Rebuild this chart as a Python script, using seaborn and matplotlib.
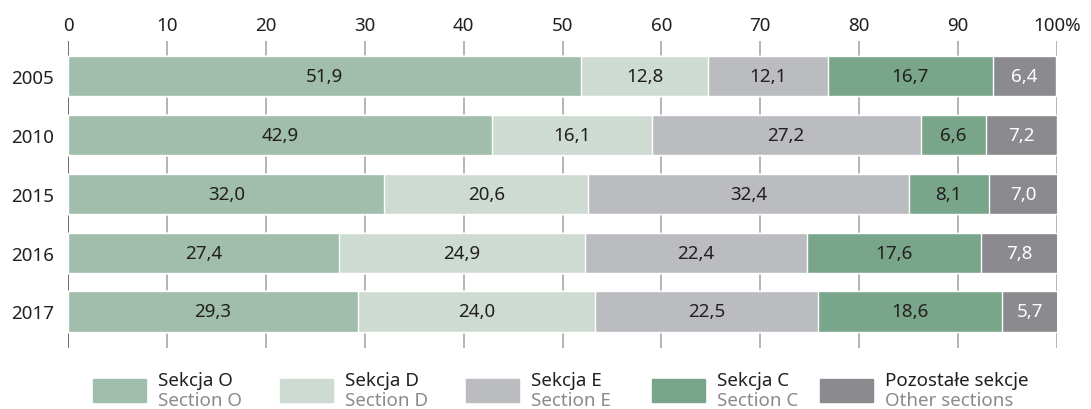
import numpy as np
import pandas as pd
import matplotlib
matplotlib.use("Agg")
import matplotlib.pyplot as plt
import seaborn as sns
from matplotlib.patches import Rectangle

# dane
years = ["2005", "2010", "2015", "2016", "2017"]
sekcja_o = [51.9, 42.9, 32.0, 27.4, 29.3]
sekcja_d = [12.8, 16.1, 20.6, 24.9, 24.0]
sekcja_e = [12.1, 27.2, 32.4, 22.4, 22.5]
sekcja_c = [16.7, 6.6, 8.1, 17.6, 18.6]
pozostale = [6.4, 7.2, 7.0, 7.8, 5.7]

names_pl = ["Sekcja O", "Sekcja D", "Sekcja E", "Sekcja C", "Pozostałe sekcje"]
names_en = ["Section O", "Section D", "Section E", "Section C", "Other sections"]
colors = ["#a1bdab", "#cddbd2", "#bbbcc0", "#79a58b", "#8b8b8f"]
text_colors = ["#231f20", "#231f20", "#231f20", "#231f20", "#ffffff"]
x_ticks = [0, 10, 20, 30, 40, 50, 60, 70, 80, 90, 100]
x_ticklabels = ["0", "10", "20", "30", "40", "50", "60", "70", "80", "90", "100%"]

sns.set_style("white")
plt.rcParams["font.family"] = ["Noto Sans", "DejaVu Sans"]
fs = 13.5

df = pd.DataFrame({"rok": years, "O": sekcja_o, "D": sekcja_d, "E": sekcja_e,
                   "C": sekcja_c, "P": pozostale})
cols = ["O", "D", "E", "C", "P"]
cum = df[cols].cumsum(axis=1)
start = cum - df[cols]

fig = plt.figure(figsize=(10.91, 4.10), dpi=100)
ax = fig.add_axes([68 / 1091, 1 - 349 / 410, (1057 - 68) / 1091, (349 - 42) / 410])

# siatka pod słupkami
for t in x_ticks:
    ax.axvline(t, color="#555555" if t == 0 else "#a8a8a8", lw=1.2, zorder=0)

# słupki skumulowane - od końca
for i in range(len(cols) - 1, -1, -1):
    sns.barplot(x=cum[cols[i]], y=df["rok"], order=years, orient="h", color=colors[i],
                saturation=1, width=0.68, ax=ax, zorder=2)

# etykiety wartości
for i, c in enumerate(cols):
    for j in range(len(years)):
        val = df[c].iloc[j]
        lab = f"{val:.1f}".replace(".", ",")
        bold = "semibold" if (c == "D" and years[j] == "2017") else "normal"
        ax.text((start[c].iloc[j] + cum[c].iloc[j]) / 2, j, lab, ha="center", va="center",
                fontsize=fs, color=text_colors[i], fontweight=bold, zorder=3)

ax.set_xlim(0, 100)
ax.set_ylim(4.62, -0.59)
ax.xaxis.tick_top()
ax.set_xticks(x_ticks)
ax.set_xticklabels(x_ticklabels, fontsize=fs, color="#231f20")
ax.tick_params(axis="x", length=0, pad=5)
ax.tick_params(axis="y", length=0, pad=10, labelsize=fs, labelcolor="#231f20")
ax.set_xlabel("")
ax.set_ylabel("")
for s in ax.spines.values():
    s.set_visible(False)

# legenda
leg_x = [93, 280, 466, 652, 820]
for k in range(5):
    x0 = leg_x[k] / 1091
    fig.patches.append(Rectangle((x0, 1 - 403 / 410), 53 / 1091, 23 / 410,
                                 transform=fig.transFigure, color=colors[k], figure=fig))
    fig.text(x0 + 65 / 1091, 1 - 381 / 410, names_pl[k], fontsize=fs, color="#231f20",
             va="center", ha="left")
    fig.text(x0 + 65 / 1091, 1 - 401 / 410, names_en[k], fontsize=fs, color="#8a8a8a",
             va="center", ha="left")

fig.savefig("out.png", dpi=100)
